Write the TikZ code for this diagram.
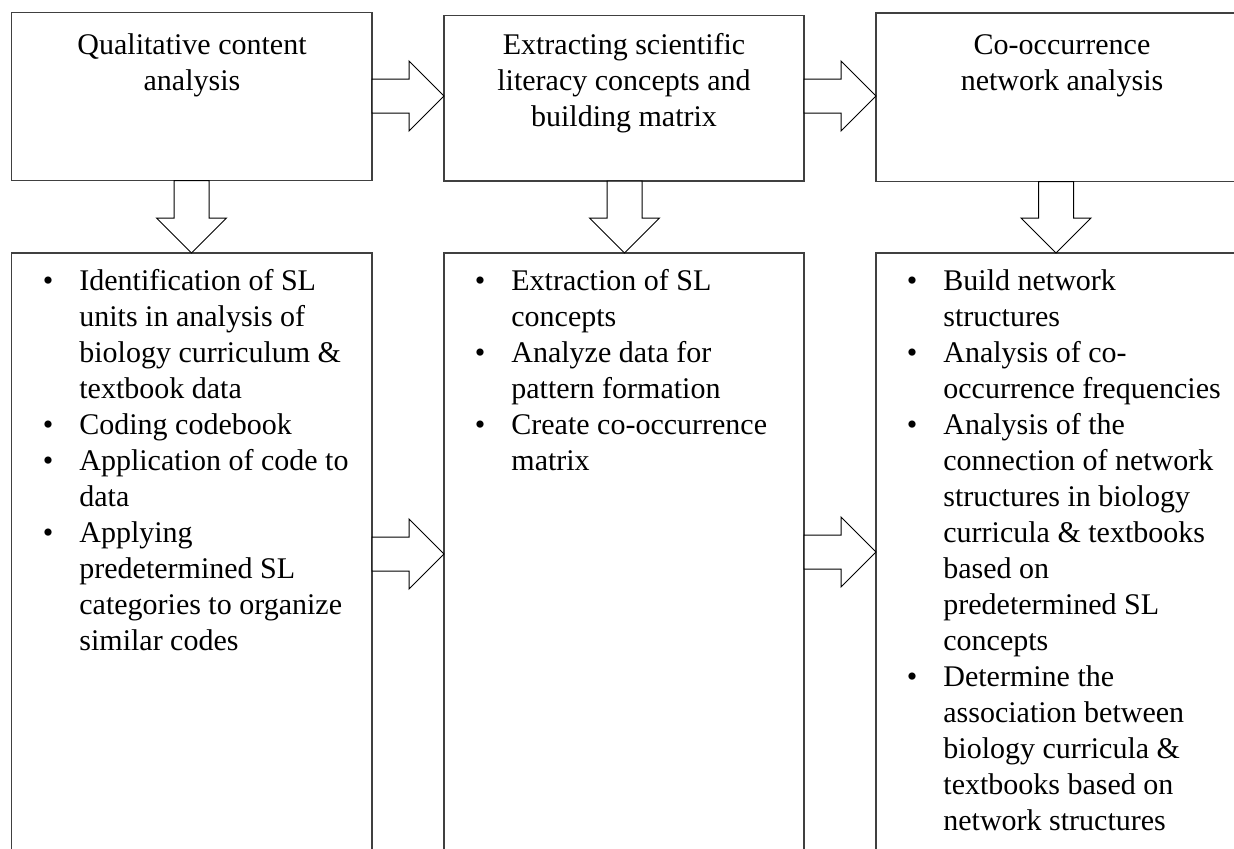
\documentclass[tikz,border=0pt]{standalone}
\usepackage{fontspec}
\setmainfont{Liberation Serif}
\usetikzlibrary{calc}
\definecolor{boxgray}{HTML}{404040}
\newcommand\mainfs{\fontsize{15}{18}\selectfont}
\newcommand\bu{\makebox[18.25pt][l]{\textbullet}}
\newcommand\nb{\hspace*{18.25pt}}
\tikzset{
  box/.style={draw=boxgray, line width=0.75pt, inner sep=0pt, outer sep=0pt, rectangle},
  barrow/.style={draw=black, line width=0.5pt, fill=white, line join=miter},
  ttl/.style={inner sep=0pt, anchor=north, font=\mainfs},
  lst/.style={inner sep=0pt, anchor=north west, font=\mainfs},
}
% right block arrow: tail node, head node, y (px)
\newcommand\rarrow[3]{%
  \draw[barrow] (#2.west |- 0,#3) -- ++(-35,-35) -- ++(0,18)
    -- (#1.east |- 0,#3-17) -- (#1.east |- 0,#3+17)
    -- ($(#2.west |- 0,#3)+(-35,17)$) -- ++(0,18) -- cycle;}
% down block arrow: top node, bottom node, x (px)
\newcommand\darrow[3]{%
  \draw[barrow] (#3,0 |- #2.north) -- ++(-35,-35) -- ++(17.5,0)
    -- (#3-17.5,0 |- #1.south) -- (#3+17.5,0 |- #1.south)
    -- ($(#3,0 |- #2.north)+(17.5,-35)$) -- ++(17.5,0) -- cycle;}
\begin{document}
\begin{tikzpicture}[x=0.5pt,y=-0.5pt]
\useasboundingbox (0,0) rectangle (1234,848);
\clip (0,0) rectangle (1234,848);
\fill[white] (0,0) rectangle (1234,848);
% boxes
\node[box, minimum width=180.25pt, minimum height=84pt]    (b1) at (191.75,96.5) {};
\node[box, minimum width=180pt,    minimum height=82.75pt] (b2) at (624,98.25) {};
\node[box, minimum width=187pt,    minimum height=84.25pt] (b3) at (1063,97.25) {};
\node[box, minimum width=180.25pt, minimum height=323.5pt] (b4) at (191.75,576.5) {};
\node[box, minimum width=180pt,    minimum height=323.5pt] (b5) at (624,576.5) {};
\node[box, minimum width=187pt,    minimum height=323.5pt] (b6) at (1063,576.5) {};
% arrows
\rarrow{b1}{b2}{96}
\rarrow{b2}{b3}{96}
\rarrow{b4}{b5}{554}
\rarrow{b5}{b6}{552}
\darrow{b1}{b4}{191.5}
\darrow{b2}{b5}{624.5}
\darrow{b3}{b6}{1056}
% titles
\node[ttl] (t1) at (192,29) {\begin{tabular}{@{}c@{}}Qualitative content\\analysis\end{tabular}};
\node[ttl] (t2) at (624,29) {\begin{tabular}{@{}c@{}}Extracting scientific\\literacy concepts and\\building matrix\end{tabular}};
\node[ttl] (t3) at (1062,29) {\begin{tabular}{@{}c@{}}Co-occurrence\\network analysis\end{tabular}};
% lists
\node[lst] (l1) at (42.5,265) {\begin{tabular}{@{}l@{}}
\bu Identification of SL\\
\nb units in analysis of\\
\nb biology curriculum \&\\
\nb textbook data\\
\bu Coding codebook\\
\bu Application of code to\\
\nb data\\
\bu Applying\\
\nb predetermined SL\\
\nb categories to organize\\
\nb similar codes
\end{tabular}};
\node[lst] (l2) at (474.5,265) {\begin{tabular}{@{}l@{}}
\bu Extraction of SL\\
\nb concepts\\
\bu Analyze data for\\
\nb pattern formation\\
\bu Create co-occurrence\\
\nb matrix
\end{tabular}};
\node[lst] (l3) at (906.5,265) {\begin{tabular}{@{}l@{}}
\bu Build network\\
\nb structures\\
\bu Analysis of co-\\
\nb occurrence frequencies\\
\bu Analysis of the\\
\nb connection of network\\
\nb structures in biology\\
\nb curricula \& textbooks\\
\nb based on\\
\nb predetermined SL\\
\nb concepts\\
\bu Determine the\\
\nb association between\\
\nb biology curricula \&\\
\nb textbooks based on\\
\nb network structures
\end{tabular}};
\end{tikzpicture}
\end{document}
